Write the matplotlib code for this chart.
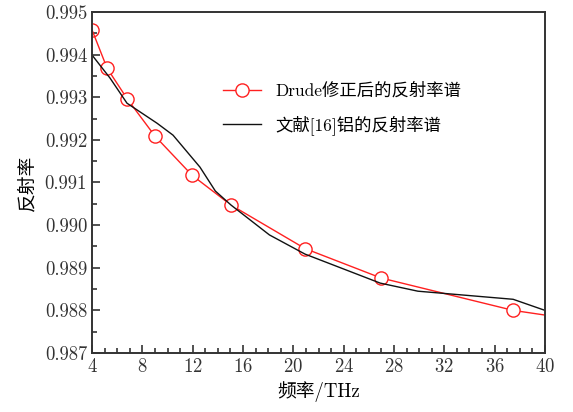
import matplotlib.pyplot as plt
from matplotlib.path import Path
from matplotlib.ticker import MultipleLocator, FormatStrFormatter

plt.rcParams['font.family'] = ['cmr10', 'Noto Sans CJK SC']
plt.rcParams['axes.formatter.use_mathtext'] = True

# Drude corrected reflectance (markers) and Ref.[16] aluminium reflectance
drude_f = [4.0, 5.2, 6.8, 9.0, 11.95, 15.05, 20.93, 26.97, 37.47, 40.0]
drude_r = [0.99458, 0.99368, 0.99296, 0.99209, 0.99117, 0.99047,
           0.98945, 0.98876, 0.98800, 0.98789]

ref_f = [4.0, 5.43, 6.78, 9.17, 10.44, 12.58, 13.8, 15.05, 18.1, 20.93,
         26.9, 29.9, 37.47, 40.0]
ref_r = [0.99399, 0.99345, 0.99286, 0.99239, 0.99211, 0.99136, 0.9908,
         0.99047, 0.98977, 0.98932, 0.98864, 0.98845, 0.98826, 0.98800]

red = '#ff2020'
fig = plt.figure(figsize=(5.73, 4.12), dpi=100)
ax = fig.add_axes([0.1606, 0.1432, 0.7905, 0.8277])

ax.plot(drude_f, drude_r, '-', color=red, lw=1.0, marker='o', markersize=9.5,
        markerfacecolor='white', markeredgecolor=red, markeredgewidth=1.0,
        markevery=list(range(1, len(drude_f) - 1)), label='Drude修正后的反射率谱')
# first marker sits on the left spine, only its right half is visible
half = Path.arc(-90, 90)
ax.plot(drude_f[:1], drude_r[:1], linestyle='none', marker=half, markersize=9.5,
        markerfacecolor='none', markeredgecolor=red, markeredgewidth=1.0)
ax.plot(ref_f, ref_r, '-', color='#111111', lw=1.0, label='文献[16]铝的反射率谱')

ax.set_xlim(4, 40)
ax.set_ylim(0.987, 0.995)
ax.xaxis.set_major_locator(MultipleLocator(4))
ax.xaxis.set_minor_locator(MultipleLocator(1))
ax.yaxis.set_major_locator(MultipleLocator(0.001))
ax.yaxis.set_minor_locator(MultipleLocator(0.0005))
ax.yaxis.set_major_formatter(FormatStrFormatter('%.3f'))
ax.tick_params(which='both', direction='in', top=False, right=False,
               labelsize=13.5, colors='#333333', width=1.2)
ax.tick_params(which='major', length=6)
ax.tick_params(which='minor', length=3.5)
for s in ax.spines.values():
    s.set_linewidth(1.4)
    s.set_color('#333333')

ax.set_xlabel('频率/THz', fontsize=13.5, labelpad=4)
ax.set_ylabel('反射率', fontsize=13.5, labelpad=6)

h, l = ax.get_legend_handles_labels()
ax.legend(h, l, loc='upper left', bbox_to_anchor=(0.255, 0.84), frameon=False,
          fontsize=12.5, handlelength=2.2, labelspacing=0.95)

fig.savefig('out.png', dpi=100)
